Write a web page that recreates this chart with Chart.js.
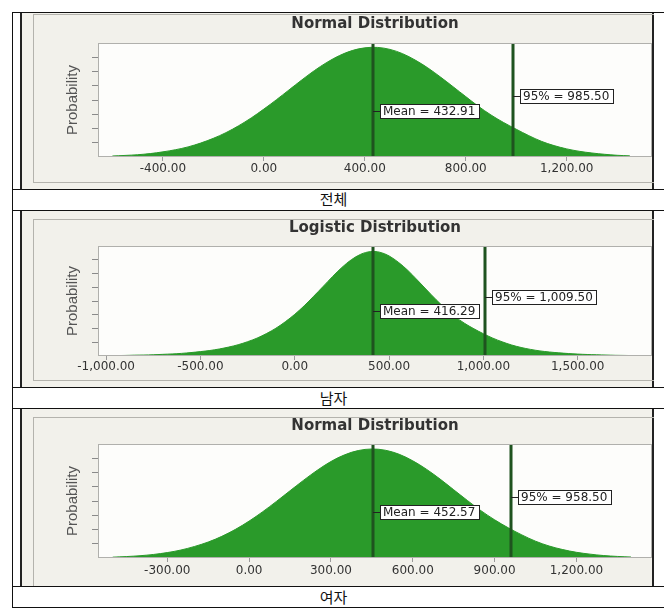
<!DOCTYPE html>
<html>
<head>
<meta charset="utf-8">
<script src="https://cdn.jsdelivr.net/npm/chart.js@4.4.0/dist/chart.umd.min.js"></script>
<style>
body { margin: 0; background: #fff; width: 664px; height: 614px; position: relative; overflow: hidden; }
.hl { position: absolute; left: 12px; width: 652px; height: 1px; background: #111; }
.vl { position: absolute; width: 1px; background: #111; }
.shot { position: absolute; left: 20px; width: 634px; background: #f2f1eb; border-left: 2px solid #222; border-right: 2px solid #222; box-sizing: border-box; }
.inner { position: absolute; left: 33px; width: 621px; border: 1px solid #b4b3ad; border-right: none; box-sizing: border-box; }
.cap { position: absolute; left: 12px; width: 643px; text-align: center; font-family: "Noto Sans CJK KR", sans-serif; font-size: 15px; color: #111; line-height: 20px; }
canvas { position: absolute; left: 33px; }
</style>
</head>
<body>
<div class="shot" style="top:13px;height:176px"></div>
<div class="shot" style="top:211px;height:176px"></div>
<div class="shot" style="top:409px;height:177px"></div>
<div class="inner" style="top:14px;height:169px"></div>
<div class="inner" style="top:219px;height:162px"></div>
<div class="inner" style="top:417px;height:170px;border-bottom:none"></div>

<canvas id="c1" width="620" height="169" style="top:14px"></canvas>
<canvas id="c2" width="620" height="162" style="top:219px"></canvas>
<canvas id="c3" width="620" height="169" style="top:417px"></canvas>

<div class="hl" style="top:12px"></div>
<div class="hl" style="top:189px"></div>
<div class="hl" style="top:210px"></div>
<div class="hl" style="top:387px"></div>
<div class="hl" style="top:408px"></div>
<div class="hl" style="top:586px"></div>
<div class="hl" style="top:607px"></div>
<div class="vl" style="left:12px;top:12px;height:596px"></div>

<div class="cap" style="top:189px">전체</div>
<div class="cap" style="top:388px">남자</div>
<div class="cap" style="top:587px">여자</div>

<script>
// 전체 - normal distribution
var totalX = [-600, -550, -500, -450, -400, -350, -300, -250, -200, -150, -100, -50, 0, 50, 100, 150, 200, 250, 300, 350, 400, 450, 500, 550, 600, 650, 700, 750, 800, 850, 900, 950, 1000, 1050, 1100, 1150, 1200, 1250, 1300, 1350, 1400, 1450];
var totalY = [0.07, 0.11, 0.16, 0.24, 0.36, 0.51, 0.71, 0.98, 1.31, 1.71, 2.19, 2.74, 3.36, 4.02, 4.71, 5.40, 6.06, 6.64, 7.12, 7.47, 7.66, 7.69, 7.55, 7.25, 6.80, 6.25, 5.61, 4.93, 4.24, 3.56, 2.95, 2.42, 1.95, 1.50, 1.10, 0.80, 0.57, 0.40, 0.28, 0.19, 0.12, 0.08];
var totalTicks = [-400, 0, 400, 800, 1200];
var totalMean = 432.91, total95 = 985.50;

// 남자 - logistic distribution
var maleX = [-950, -900, -850, -800, -750, -700, -650, -600, -550, -500, -450, -400, -350, -300, -250, -200, -150, -100, -50, 0, 50, 100, 150, 200, 250, 300, 350, 400, 450, 500, 550, 600, 650, 700, 750, 800, 850, 900, 950, 1000, 1050, 1100, 1150, 1200, 1250, 1300, 1350, 1400, 1450, 1500, 1550, 1600, 1650, 1700, 1750, 1800];
var maleY = [0.03, 0.04, 0.06, 0.07, 0.09, 0.12, 0.15, 0.19, 0.25, 0.32, 0.40, 0.51, 0.65, 0.82, 1.04, 1.30, 1.63, 2.02, 2.49, 3.03, 3.65, 4.34, 5.05, 5.77, 6.44, 7.00, 7.40, 7.59, 7.55, 7.28, 6.81, 6.22, 5.52, 4.80, 4.09, 3.43, 2.86, 2.38, 1.98, 1.62, 1.30, 1.03, 0.80, 0.62, 0.48, 0.37, 0.29, 0.23, 0.18, 0.14, 0.11, 0.09, 0.07, 0.05, 0.04, 0.03];
var maleTicks = [-1000, -500, 0, 500, 1000, 1500];
var maleMean = 416.29, male95 = 1009.50;

// 여자 - normal distribution
var femaleX = [-500, -450, -400, -350, -300, -250, -200, -150, -100, -50, 0, 50, 100, 150, 200, 250, 300, 350, 400, 450, 500, 550, 600, 650, 700, 750, 800, 850, 900, 950, 1000, 1050, 1100, 1150, 1200, 1250, 1300, 1350, 1400];
var femaleY = [0.06, 0.10, 0.16, 0.25, 0.38, 0.56, 0.81, 1.12, 1.52, 2.01, 2.59, 3.25, 3.97, 4.72, 5.46, 6.16, 6.77, 7.24, 7.54, 7.65, 7.56, 7.28, 6.82, 6.23, 5.54, 4.79, 4.04, 3.32, 2.68, 2.12, 1.62, 1.18, 0.84, 0.59, 0.40, 0.27, 0.17, 0.11, 0.07];
var femaleTicks = [-300, 0, 300, 600, 900, 1200];
var femaleMean = 452.57, female95 = 958.50;

var probTicks = [1, 2, 3, 4, 5, 6, 7];

function fmt(v) {
  return Number(v).toLocaleString('en-US', {minimumFractionDigits: 2, maximumFractionDigits: 2});
}

// plot background + grey frame
var frame = {
  id: 'frame',
  beforeDraw: function(c) {
    var a = c.chartArea, g = c.ctx;
    g.save();
    g.fillStyle = '#fdfdfb';
    g.fillRect(a.left, a.top, a.right - a.left, a.bottom - a.top);
    g.restore();
  },
  afterDraw: function(c) {
    var a = c.chartArea, g = c.ctx;
    g.save();
    g.strokeStyle = '#b0b0ac';
    g.lineWidth = 1;
    g.strokeRect(a.left + 0.5, a.top + 0.5, a.right - a.left - 1, a.bottom - a.top - 1);
    g.restore();
  }
};

// mean / 95% lines with their label boxes
var markers = {
  id: 'markers',
  afterDatasetsDraw: function(c, args, opts) {
    var a = c.chartArea, g = c.ctx, xs = c.scales.x, ys = c.scales.y;
    g.save();
    g.font = '12px "DejaVu Sans"';
    g.textBaseline = 'middle';
    opts.items.forEach(function(m) {
      var px = Math.round(xs.getPixelForValue(m.value));
      g.fillStyle = '#1f531f';
      g.fillRect(px - 1.5, a.top, 3, a.bottom - a.top);
      var py = Math.round(ys.getPixelForValue(m.at)) + 0.5;
      g.strokeStyle = '#222';
      g.lineWidth = 1;
      g.beginPath(); g.moveTo(px, py); g.lineTo(px + 7, py); g.stroke();
      var w = Math.ceil(g.measureText(m.text).width) + 6;
      g.fillStyle = '#ffffff';
      g.fillRect(px + 7, py - 7, w, 14);
      g.strokeRect(px + 7.5, py - 7, w, 14);
      g.fillStyle = '#222';
      g.fillText(m.text, px + 10, py + 0.5);
    });
    g.restore();
  }
};

function makeChart(id, xs, ys, cfg) {
  return new Chart(document.getElementById(id), {
    type: 'line',
    data: {
      datasets: [{
        data: xs.map(function(x, i) { return {x: x, y: ys[i]}; }),
        fill: 'origin',
        backgroundColor: '#2a9a2a',
        borderColor: '#2a9a2a',
        borderWidth: 1,
        pointRadius: 0,
        tension: 0.35
      }]
    },
    options: {
      responsive: false,
      animation: false,
      layout: {padding: {left: 0, right: 1, top: 0, bottom: 0}},
      plugins: {
        legend: {display: false},
        tooltip: {enabled: false},
        title: {
          display: true,
          fullSize: false,
          text: cfg.title,
          color: '#333',
          font: {family: 'DejaVu Sans', size: 15, weight: 'bold'},
          padding: {top: cfg.titleTop, bottom: cfg.titleBottom}
        },
        markers: {items: cfg.markers}
      },
      scales: {
        x: {
          type: 'linear',
          min: cfg.min,
          max: cfg.max,
          afterBuildTicks: function(s) { s.ticks = cfg.ticks.map(function(v) { return {value: v}; }); },
          afterFit: function(s) { s.height = cfg.xHeight; },
          grid: {drawOnChartArea: false, tickLength: 4, color: '#9a9a9a'},
          border: {display: false},
          ticks: {
            padding: cfg.labelPad,
            color: '#333',
            maxRotation: 0,
            autoSkip: false,
            font: {family: 'DejaVu Sans', size: 12},
            callback: function(v) { return fmt(v); }
          }
        },
        y: {
          min: 0,
          max: 8,
          afterBuildTicks: function(s) { s.ticks = probTicks.map(function(v) { return {value: v}; }); },
          afterFit: function(s) { s.width = 65; },
          grid: {drawOnChartArea: false, tickLength: 6, color: '#8a8a8a'},
          border: {display: false},
          ticks: {callback: function() { return ''; }},
          title: {
            display: true,
            text: 'Probability',
            color: '#555',
            font: {family: 'Liberation Sans', size: 15},
            padding: {top: 31, bottom: 0}
          }
        }
      }
    },
    plugins: [frame, markers]
  });
}

makeChart('c1', totalX, totalY, {
  title: 'Normal Distribution', min: -657, max: 1538, ticks: totalTicks,
  titleTop: 1, titleBottom: 10, xHeight: 26, labelPad: 1,
  markers: [
    {value: totalMean, text: 'Mean = ' + fmt(totalMean), at: 3.25},
    {value: total95, text: '95% = ' + fmt(total95), at: 4.3}
  ]
});

makeChart('c2', maleX, maleY, {
  title: 'Logistic Distribution', min: -1043, max: 1894, ticks: maleTicks,
  titleTop: 0, titleBottom: 9, xHeight: 25, labelPad: 0,
  markers: [
    {value: maleMean, text: 'Mean = ' + fmt(maleMean), at: 3.25},
    {value: male95, text: '95% = ' + fmt(male95), at: 4.3}
  ]
});

makeChart('c3', femaleX, femaleY, {
  title: 'Normal Distribution', min: -554, max: 1477, ticks: femaleTicks,
  titleTop: 0, titleBottom: 9, xHeight: 28, labelPad: 2,
  markers: [
    {value: femaleMean, text: 'Mean = ' + fmt(femaleMean), at: 3.25},
    {value: female95, text: '95% = ' + fmt(female95), at: 4.3}
  ]
});
</script>
</body>
</html>
